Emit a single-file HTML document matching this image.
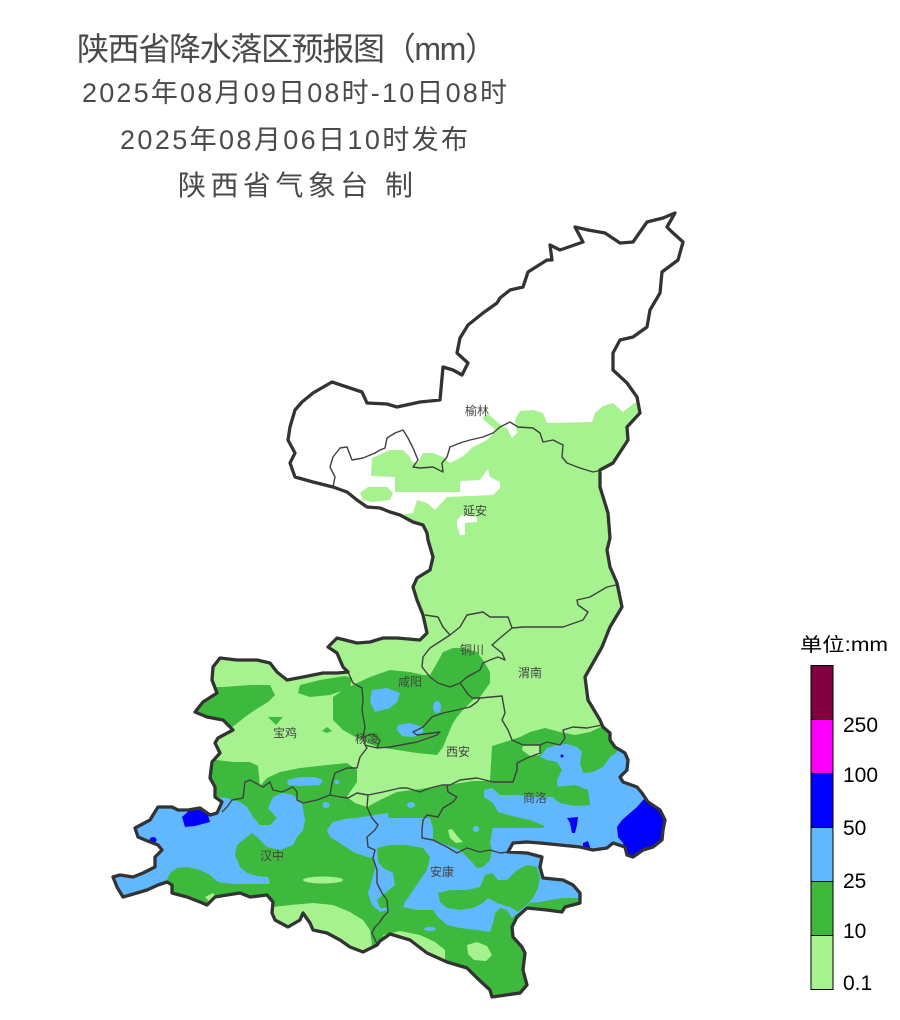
<!DOCTYPE html>
<html><head><meta charset="utf-8"><style>
html,body{margin:0;padding:0;background:#fff;}
svg{display:block;}
.t{font-family:"Liberation Sans","Noto Sans CJK SC",sans-serif;fill:#4a4a4a;}
.lb{font-family:"Liberation Sans","Noto Sans CJK SC",sans-serif;font-size:12px;fill:#444;text-anchor:middle;}
.lg{font-family:"Liberation Sans","Noto Sans CJK SC",sans-serif;fill:#000;}
</style></head><body>
<svg width="900" height="1020" viewBox="0 0 900 1020" xmlns="http://www.w3.org/2000/svg">
<defs>
<clipPath id="sx"><path id="outl" d="M675,213 L667,227 L672,232 L683,242 L678,260 L662,272 L660,293 L650,310 L647,327 L633,337 L620,340 L613,353 L613,370 L627,383 L637,397 L640,413 L627,427 L628,440 L613,463 L600,470 L600,487 L608,513 L610,538 L607,550 L610,567 L617,583 L622,607 L610,627 L602,647 L585,677 L588,700 L600,720 L603,727 L610,733 L610,740 L615,747 L625,753 L628,760 L627,770 L620,777 L623,782 L637,787 L642,793 L648,802 L660,810 L665,820 L663,830 L662,840 L653,847 L643,850 L633,857 L627,855 L625,847 L613,843 L607,848 L593,850 L580,847 L560,845 L540,843 L527,842 L513,843 L508,852 L527,853 L542,857 L540,867 L543,878 L563,880 L573,885 L580,893 L580,903 L565,907 L562,912 L547,910 L527,908 L517,917 L512,927 L513,937 L522,947 L525,953 L523,970 L527,985 L520,993 L492,997 L490,990 L477,978 L467,968 L447,962 L427,953 L410,940 L390,934 L380,941 L377,945 L363,952 L350,947 L340,940 L327,933 L313,930 L310,923 L303,913 L300,920 L288,927 L275,920 L272,913 L273,902 L267,895 L250,897 L240,893 L227,895 L215,897 L207,905 L200,902 L187,897 L172,893 L172,885 L167,882 L158,885 L147,890 L130,895 L123,897 L117,887 L113,877 L120,875 L133,877 L143,873 L155,867 L155,857 L162,850 L158,845 L150,842 L138,837 L135,828 L150,820 L153,815 L158,807 L172,807 L178,810 L188,810 L200,808 L210,815 L217,813 L222,802 L215,797 L215,787 L210,778 L212,762 L220,753 L215,743 L218,738 L233,730 L223,720 L207,717 L195,712 L203,702 L217,693 L212,680 L213,667 L220,658 L237,660 L257,660 L270,663 L277,672 L287,680 L303,677 L323,673 L337,673 L348,672 L343,667 L337,653 L328,647 L337,638 L357,643 L370,642 L383,638 L397,638 L420,640 L427,633 L423,615 L417,600 L413,587 L417,578 L430,570 L433,557 L428,540 L427,533 L423,525 L413,522 L400,515 L390,512 L380,508 L367,507 L357,500 L347,492 L333,487 L313,482 L295,477 L290,463 L295,453 L288,440 L290,427 L295,410 L302,402 L313,393 L332,382 L362,392 L367,403 L387,404 L397,407 L420,402 L440,400 L443,367 L453,370 L462,375 L468,363 L457,353 L460,338 L468,325 L483,313 L497,303 L500,298 L510,290 L523,287 L528,272 L547,260 L552,260 L550,245 L560,250 L583,242 L575,227 L588,230 L605,233 L620,243 L633,242 L647,222 L663,218 Z"/></clipPath>
</defs>

<!-- Title -->
<text class="t" x="77" y="60" font-size="32" textLength="420" lengthAdjust="spacing">陕西省降水落区预报图（mm）</text>
<text class="t" x="82" y="102" font-size="27" textLength="425" lengthAdjust="spacing">2025年08月09日08时-10日08时</text>
<text class="t" x="120" y="149" font-size="27" textLength="348" lengthAdjust="spacing">2025年08月06日10时发布</text>
<text class="t" x="178" y="195" font-size="28" textLength="235" lengthAdjust="spacing">陕西省气象台 制</text>

<g clip-path="url(#sx)">
<!-- light green base with northern white -->
<path fill="#A6F28F" d="M650,395 L633,404 L623,412 L613,403 L603,406 L595,413 L592,422 L547,423 L543,413 L533,410 L520,411 L515,420 L517,433 L512,438 L507,428 L500,427 L487,440 L473,447 L462,457 L450,463 L443,457 L433,453 L423,453 L418,463 L412,462 L410,457 L403,450 L390,450 L372,458 L371,476 L393,477 L395,477 L395,492 L460,492 L460,481 L480,480 L488,469 L490,477 L500,482 L500,488 L493,495 L447,497 L435,510 L427,503 L417,500 L413,513 L400,515 L390,517 L340,520 L100,560 L100,1010 L700,1010 L700,395 Z"/>
<path fill="#A6F28F" d="M360,493 L368,487 L387,487 L393,493 L390,500 L372,502 L363,500 Z"/>
<path fill="#A6F28F" d="M482,418 L488,414 L503,427 L498,432 Z"/>
<path fill="#fff" d="M457,520 L462,515 L477,517 L477,522 L465,523 L465,535 L460,535 L457,525 Z"/>

<!-- dark green -->
<g fill="#3DBA3D">
<path d="M100,757 L217,760 L233,762 L250,762 L258,766 L260,786 L267,778 L280,772 L300,768 L327,765 L347,763 L357,770 L357,782 L350,792 L347,797 L355,803 L367,807 L380,800 L397,792 L420,789 L447,785 L473,781 L490,781 L492,746 L505,742 L520,737 L530,732 L545,728 L560,732 L575,735 L590,732 L605,725 L620,716 L700,716 L700,1010 L100,1010 Z"/>
<path d="M195,687 L223,687 L250,685 L270,685 L275,695 L268,702 L255,710 L245,717 L235,725 L225,732 L195,732 Z"/>
<path d="M298,693 L300,685 L320,680 L345,676 L352,678 L350,688 L330,695 L310,697 Z"/>
<path d="M268,717 L283,717 L276,725 Z"/>
<path d="M322,731 L327,727 L332,731 L327,733 Z"/>
<path d="M333,697 L343,690 L357,683 L370,677 L390,670 L410,672 L423,675 L430,675 L437,663 L443,652 L453,648 L463,648 L477,652 L483,660 L490,672 L490,683 L480,697 L473,700 L470,703 L463,710 L457,717 L453,723 L447,737 L443,747 L437,755 L417,753 L397,750 L377,747 L357,738 L343,730 L333,720 Z"/>
</g>

<!-- light green patches -->
<g fill="#A6F28F">
<path d="M260,915 L273,907 L290,905 L313,903 L333,905 L350,912 L363,920 L370,930 L372,945 L372,965 L260,965 Z"/>
<ellipse cx="323" cy="880" rx="20" ry="3.5"/>
<path d="M205,897 L213,893 L218,900 L212,905 Z"/>
<path d="M383,935 L400,931 L420,935 L435,942 L445,950 L445,965 L383,965 Z"/>
<path d="M467,945 L477,942 L487,946 L492,955 L486,961 L474,960 L468,954 Z"/>
<path d="M523,745 L540,745 L540,755 L530,756 L522,750 Z"/>
</g>

<!-- light blue -->
<g fill="#61B8FF">
<path d="M372,690 L387,688 L400,693 L397,702 L390,708 L375,712 L370,702 Z"/>
<ellipse cx="437" cy="707" rx="4" ry="6"/>
<path d="M398,725 L410,723 L423,727 L423,733 L413,737 L402,736 L397,730 Z"/>
<path d="M287,780 L300,777 L315,777 L323,780 L320,785 L300,786 L288,785 Z"/>
<path d="M200,790 L217,797 L227,798 L240,802 L247,807 L253,817 L260,825 L270,825 L277,818 L268,808 L273,797 L282,793 L293,795 L302,803 L305,820 L303,830 L297,837 L293,845 L280,850 L267,847 L257,837 L252,833 L237,845 L235,855 L240,867 L247,873 L257,876 L268,877 L270,884 L250,884 L233,884 L218,882 L210,875 L200,870 L187,867 L177,868 L170,873 L167,880 L160,887 L140,900 L100,905 L100,790 Z"/>
<path d="M327,830 L333,822 L345,819 L363,817 L375,815 L388,813 L390,830 L393,850 L390,860 L392,880 L393,895 L388,910 L380,912 L372,905 L368,893 L372,880 L375,868 L373,858 L367,857 L353,852 L340,843 L330,837 Z"/>
<path d="M365,818 L430,818 L433,828 L550,828 L580,880 L590,900 L575,898 L563,898 L550,900 L540,902 L530,903 L523,910 L515,915 L512,918 L507,910 L500,908 L495,913 L493,923 L490,932 L477,930 L460,928 L447,925 L438,917 L433,910 L417,910 L403,907 L385,908 Z"/>
<path d="M540,757 L547,748 L557,745 L567,744 L577,747 L582,752 L580,763 L583,773 L593,772 L603,767 L610,757 L617,752 L625,740 L650,760 L680,860 L560,870 L545,852 L490,848 L490,838 L515,836 L540,832 L545,826 L530,820 L512,816 L498,812 L493,803 L484,797 L484,790 L492,788 L500,795 L517,795 L540,797 L553,797 L558,790 L557,780 L562,770 L557,762 L547,760 Z"/>
<ellipse cx="326" cy="805" rx="3.5" ry="3"/>
<ellipse cx="411" cy="805" rx="4" ry="3"/>
<ellipse cx="337" cy="782" rx="2.5" ry="2"/>
</g>

<!-- dark green islands over light blue -->
<g fill="#3DBA3D">
<path d="M433,826 L433,840 L447,845 L460,850 L470,860 L477,868 L483,867 L490,860 L492,850 L490,843 L493,826 Z"/>
<path d="M377,848 L390,845 L407,845 L423,848 L430,857 L427,870 L420,880 L412,892 L405,902 L403,907 L380,908 L377,900 L385,893 L395,885 L393,873 L383,868 L378,862 Z"/>
<path d="M438,893 L450,890 L467,890 L480,887 L485,875 L492,873 L498,880 L507,880 L517,870 L527,865 L537,867 L540,877 L538,888 L533,898 L527,905 L518,912 L510,907 L503,905 L497,903 L488,898 L483,903 L473,908 L460,910 L447,908 L440,902 Z"/>
<path d="M555,787 L575,785 L588,790 L590,805 L575,806 L560,803 L553,798 Z"/>
</g>

<!-- small patches on top -->
<path fill="#A6F28F" d="M448,830 L452,829 L458,837 L463,842 L456,843 L450,838 Z"/>
<g fill="#61B8FF">
<ellipse cx="476" cy="829" rx="3" ry="3"/>
<ellipse cx="430" cy="929" rx="6" ry="2"/>
</g>

<!-- blue -->
<g fill="#0000FF">
<path d="M637,807 L643,800 L650,796 L675,815 L675,845 L655,852 L637,856 L630,857 L625,850 L623,843 L618,837 L617,827 L622,820 L630,813 Z"/>
<path d="M567,818 L578,817 L577,825 L575,833 L572,833 L570,823 Z"/>
<path d="M583,843 L588,841 L591,850 L583,850 Z"/>
<path d="M182,817 L190,810 L200,810 L208,815 L210,822 L195,826 L185,827 Z"/>
<ellipse cx="153" cy="840" rx="3.5" ry="3"/>
<ellipse cx="562" cy="756" rx="1.5" ry="1.5"/>
</g>
</g>

<!-- inner boundaries -->
<g fill="none" stroke="#404040" stroke-width="1.4" stroke-linejoin="round">
<path d="M333,487 L335,477 L330,467 L333,457 L340,448 L347,447 L352,460 L363,458 L375,453 L380,450 L385,448 L387,438 L395,433 L403,430 L408,438 L413,448 L418,460 L413,467 L420,468 L433,467 L443,472 L442,463 L447,457 L450,447 L460,443 L470,440 L483,437 L493,433 L500,427 L510,422 L518,427 L533,428 L540,433 L543,442 L553,440 L563,445 L562,457 L567,463 L580,468 L593,472 L602,470"/>
<path d="M425,615 L438,617 L443,627 L450,635 L460,627 L467,615 L483,612 L490,617 L508,617 L512,628 L523,627 L540,627 L563,627 L583,620 L588,612 L578,605 L577,600 L590,597 L607,587 L616,585"/>
<path d="M450,635 L430,648 L423,657 L422,667 L430,677 L438,683 L450,687 L460,683"/>
<path d="M512,628 L500,638 L492,645 L502,653 L505,660 L498,657 L490,660 L483,663 L480,670 L467,677 L460,683"/>
<path d="M460,683 L463,687 L467,693 L472,698 L480,698 L502,696 L505,713 L502,720 L508,730 L512,740 L523,745 L540,745 L547,742 L560,745 L565,738 L563,730 L573,727 L587,728 L602,725"/>
<path d="M540,745 L540,753 L527,758 L517,763 L517,770 L513,782 L493,782 L477,778 L460,780 L450,785 L442,785 L430,788 L420,792 L407,788 L400,788 L383,792 L368,795 L357,793 L348,798 L340,797 L330,795 L317,800 L303,803 L297,800 L297,792 L293,787 L282,792 L273,790 L270,782 L263,787 L250,780 L245,782 L243,798 L232,800 L227,807 L222,812"/>
<path d="M348,672 L353,683 L362,688 L363,700 L362,710 L365,727 L363,737 L365,745 L367,748 L360,757 L357,768 L347,768 L335,773 L332,783 L330,795"/>
<path d="M365,745 L377,748 L390,747 L417,742 L437,735 L440,732 L417,735 L413,732 L423,727 L432,717 L443,713 L457,710 L470,707 L477,702 L480,698"/>
<path d="M363,737 L372,734 L380,740 L377,748"/>
<path d="M368,795 L367,807 L372,818 L378,825 L375,830 L367,837 L368,847 L375,850 L373,858 L377,870 L377,883 L382,893 L387,900 L388,912 L383,917 L380,922 L375,927 L372,933 L377,944"/>
<path d="M447,785 L448,792 L457,797 L453,802 L443,808 L438,817 L427,815 L423,820 L422,830 L422,838 L433,840 L447,847 L457,853 L467,848 L480,852 L490,850 L500,853 L508,852"/>
</g>

<!-- outer boundary -->
<use href="#outl" fill="none" stroke="#333" stroke-width="3.3" stroke-linejoin="round"/>

<!-- city labels -->
<text class="lb" x="477" y="415">榆林</text>
<text class="lb" x="475" y="515">延安</text>
<text class="lb" x="472" y="654">铜川</text>
<text class="lb" x="410" y="686">咸阳</text>
<text class="lb" x="530" y="677">渭南</text>
<text class="lb" x="285" y="737">宝鸡</text>
<text class="lb" x="367" y="743">杨凌</text>
<text class="lb" x="458" y="756">西安</text>
<text class="lb" x="535" y="802">商洛</text>
<text class="lb" x="272" y="860">汉中</text>
<text class="lb" x="442" y="876">安康</text>

<!-- legend -->
<text class="lg" x="800" y="651" font-size="19" textLength="88" lengthAdjust="spacingAndGlyphs">单位:mm</text>
<g stroke="#000" stroke-width="1">
<rect x="811" y="665.5" width="22" height="54" fill="#800040"/>
<rect x="811" y="719.5" width="22" height="54" fill="#FA00FA"/>
<rect x="811" y="773.5" width="22" height="54" fill="#0000FF"/>
<rect x="811" y="827.5" width="22" height="54" fill="#61B8FF"/>
<rect x="811" y="881.5" width="22" height="54" fill="#3DBA3D"/>
<rect x="811" y="935.5" width="22" height="54" fill="#A6F28F"/>
</g>
<g class="lg" font-size="21">
<text x="843" y="732">250</text>
<text x="843" y="782">100</text>
<text x="843" y="835">50</text>
<text x="843" y="888">25</text>
<text x="843" y="938">10</text>
<text x="843" y="990">0.1</text>
</g>
</svg>
</body></html>
